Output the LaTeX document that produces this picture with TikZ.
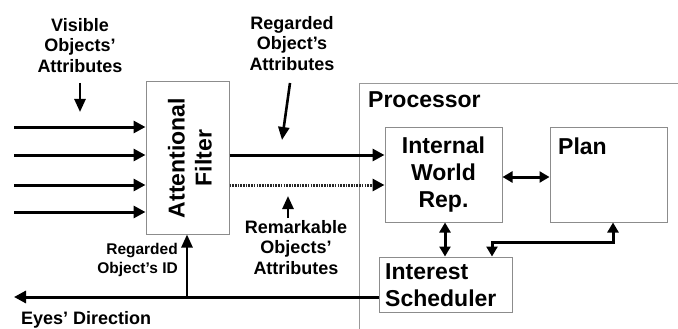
\documentclass[tikz,border=0pt]{standalone}
\usepackage{fontspec}
\setmainfont{Liberation Sans}
\usetikzlibrary{arrows.meta}
\begin{document}
\begin{tikzpicture}[x=1pt,y=-1pt,
  box/.style={draw=black!45, line width=1pt, inner sep=0pt, fill=white},
  big/.style={font=\fontsize{23}{27}\selectfont\bfseries, inner sep=0pt},
  small/.style={font=\fontsize{18}{20.5}\selectfont\bfseries, inner sep=0pt},
  tiny/.style={font=\fontsize{15.5}{19}\selectfont\bfseries, inner sep=0pt},
  arr/.style={line width=3pt, line join=miter, -{Triangle[length=12pt,width=12pt]}},
  larr/.style={line width=2.6pt, -{Triangle[length=13pt,width=11pt]}},
  darr/.style={line width=3pt, line join=miter, {Triangle[length=10pt,width=11pt]}-{Triangle[length=10pt,width=11pt]}},
  dotarr/.style={line width=3pt, black!85, dash pattern=on 1.6pt off 1.1pt, -{Triangle[length=12pt,width=12pt,color=black]}},
]
\useasboundingbox (0,0) rectangle (678,329);
\fill[white] (0,0) rectangle (678,329);
% processor frame
\draw[black!40, line width=1pt] (359,329) -- (359,84) -- (678,84);
\node[big, anchor=north west, font=\fontsize{23}{27}\selectfont\bfseries] (proc) at (368,91) {Processor};
% boxes
\node[box, minimum width=83pt, minimum height=152pt] (filter) at (187.5,158) {};
\node[big, rotate=90, align=center] (filtertext) at (190,158) {Attentional\\Filter};
\node[box, big, minimum width=117pt, minimum height=95pt, align=center] (iwr) at (443.5,174.5) {Internal\\World\\Rep.};
\node[box, minimum width=117pt, minimum height=95pt] (plan) at (608.5,174.5) {};
\node[big, anchor=north west] (plantext) at (558,138) {Plan};
\node[box, minimum width=133pt, minimum height=55pt] (sched) at (445.5,284.5) {};
\node[big, anchor=north west, align=left] (schedtext) at (385,263) {Interest\\Scheduler};
% labels
\node[small, align=center, anchor=north] (vis) at (80,18) {Visible\\Objects'\\Attributes};
\node[small, align=center, anchor=north] (rega) at (292,16) {Regarded\\Object's\\Attributes};
\node[small, align=center, anchor=north] (rem) at (296,220) {Remarkable\\Objects'\\Attributes};
\node[tiny, align=right, anchor=north east] (regid) at (178,243) {Regarded\\Object's ID};
\node[small, anchor=base west] (eyes) at (21,324) {Eyes' Direction};
% coordinates
\coordinate (in1) at (14,127);
\coordinate (in2) at (14,155);
\coordinate (in3) at (14,185);
\coordinate (in4) at (14,212);
\coordinate (y155) at (0,155);
\coordinate (y185) at (0,185);
\coordinate (y177) at (0,177);
\coordinate (y242) at (0,242);
\coordinate (y297) at (0,297);
\coordinate (x445) at (445,0);
\coordinate (x613) at (613,0);
\coordinate (x492) at (492,0);
\coordinate (eye) at (14,297);
\coordinate (idb) at (187,297);
\coordinate (va1) at (80,83);
\coordinate (va2) at (80,112);
\coordinate (ra1) at (290,83);
\coordinate (ra2) at (282,140);
\coordinate (rm1) at (288,218);
\coordinate (rm2) at (288,196);
% connectors
\draw[arr] (in1) -- (in1 -| filter.west);
\draw[arr] (in2) -- (in2 -| filter.west);
\draw[arr] (in3) -- (in3 -| filter.west);
\draw[arr] (in4) -- (in4 -| filter.west);
\draw[arr] (filter.east |- y155) -- (iwr.west |- y155);
\draw[dotarr] (filter.east |- y185) -- (iwr.west |- y185);
\draw[darr] (iwr.east |- y177) -- (plan.west |- y177);
\draw[darr] (x445 |- iwr.south) -- (x445 |- sched.north);
\draw[darr] (x613 |- plan.south) -- (x613 |- y242) -- (x492 |- y242) -- (x492 |- sched.north);
\draw[arr] (sched.west |- y297) -- (eye);
\draw[larr] (idb) -- (idb |- filter.south);
\draw[larr] (va1) -- (va2);
\draw[larr] (ra1) -- (ra2);
\draw[larr] (rm1) -- (rm2);
\end{tikzpicture}
\end{document}
